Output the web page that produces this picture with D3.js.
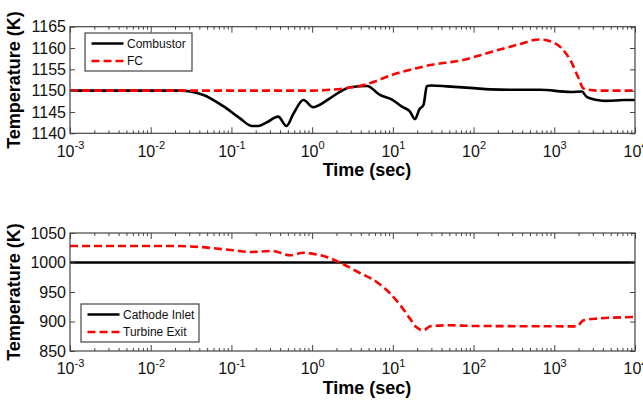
<!DOCTYPE html>
<html>
<head>
<meta charset="utf-8">
<script src="https://cdn.jsdelivr.net/npm/d3@7"></script>
<style>
  body { margin: 0; background: #fff; }
  svg { display: block; font-family: Arial, "Liberation Sans", sans-serif; }
  .tick text { fill: #111; }
</style>
</head>
<body>
<svg id="chart" width="643" height="401"></svg>
<script>
// --- data ---
var decades = [1e-3, 1e-2, 1e-1, 1e0, 1e1, 1e2, 1e3, 1e4];
var decadeExp = ["-3", "-2", "-1", "0", "1", "2", "3", "4"];

var combustorT = [0.001, 0.01, 0.023, 0.031, 0.045, 0.08, 0.128, 0.18, 0.215, 0.27, 0.38, 0.48, 0.59, 0.78, 1.03, 1.25, 1.66, 2.97, 4.8, 6.9, 10, 12.8, 16.3, 18.8, 21.3, 24, 26.4, 30, 47, 100, 160, 340, 660, 1600, 2200, 2500, 3400, 4500, 7300, 10000];
var combustorK = [1150, 1150, 1150, 1149.8, 1149, 1146.3, 1143.5, 1141.7, 1141.7, 1142.5, 1143.9, 1141.7, 1144.7, 1147.8, 1146.1, 1146.7, 1148.2, 1150.8, 1151.1, 1149, 1147.8, 1146.3, 1145.1, 1143.3, 1145.6, 1146.7, 1151.1, 1151.2, 1151, 1150.6, 1150.3, 1150.2, 1150.2, 1149.7, 1149.8, 1148.6, 1147.8, 1147.6, 1147.8, 1147.8];

var fcT = [0.001, 0.01, 0.1, 1, 1.66, 4.3, 11, 29, 74, 160, 340, 660, 890, 1240, 1660, 2000, 2300, 3400, 10000];
var fcK = [1150, 1150, 1150, 1150, 1150.2, 1151.3, 1154, 1156, 1157.2, 1159, 1160.7, 1162, 1161.6, 1159.9, 1156.4, 1152.9, 1150.5, 1150, 1150];

var cathodeT = [0.001, 10000];
var cathodeK = [1000, 1000];

var turbineT = [0.001, 0.019, 0.04, 0.105, 0.17, 0.32, 0.54, 0.78, 1.15, 1.55, 2.2, 3.9, 6.3, 9.3, 12.4, 16.3, 19.8, 24, 29, 51, 100, 1900, 2300, 3400, 10000];
var turbineK = [1028, 1028, 1026.3, 1020.7, 1017.8, 1019.5, 1012.2, 1016.5, 1013.4, 1009, 1000, 982.2, 967, 947.3, 927.5, 904.9, 889.7, 885, 891.9, 893.6, 892.5, 891.8, 902, 905, 907.6];

var topTicks = [1140, 1145, 1150, 1155, 1160, 1165];
var bottomTicks = [850, 900, 950, 1000, 1050];

// --- panels ---
var svg = d3.select("#chart");
var x0 = 70, x1 = 635;

var panels = [
  { top: 26.7, bottom: 133.3, domain: [1140, 1165], ticks: topTicks,
    series: [
      { name: "Combustor", t: combustorT, k: combustorK, color: "#000", dash: null },
      { name: "FC", t: fcT, k: fcK, color: "#f00", dash: "8,4" }
    ],
    legend: { x: 85, y: 33, w: 107, h: 38 } },
  { top: 233, bottom: 351, domain: [850, 1050], ticks: bottomTicks,
    series: [
      { name: "Cathode Inlet", t: cathodeT, k: cathodeK, color: "#000", dash: null },
      { name: "Turbine Exit", t: turbineT, k: turbineK, color: "#f00", dash: "8,4" }
    ],
    legend: { x: 81, y: 304, w: 118, h: 38 } }
];

var x = d3.scaleLog().domain([1e-3, 1e4]).range([x0, x1]);

var minor = [];
decades.slice(0, -1).forEach(function (d) {
  for (var m = 2; m <= 9; m++) minor.push(d * m);
});

panels.forEach(function (p) {
  var y = d3.scaleLinear().domain(p.domain).range([p.bottom, p.top]);
  var h = p.bottom - p.top;
  var g = svg.append("g");

  // curves
  var line = d3.line()
    .x(function (d) { return x(d[0]); })
    .y(function (d) { return y(d[1]); })
    .curve(d3.curveMonotoneX);
  p.series.forEach(function (s) {
    g.append("path")
      .datum(d3.zip(s.t, s.k))
      .attr("fill", "none")
      .attr("stroke", s.color)
      .attr("stroke-width", 2.6)
      .attr("stroke-dasharray", s.dash)
      .attr("d", line);
  });

  // x axes (ticks inside, top and bottom)
  var xb = g.append("g").attr("transform", "translate(0," + p.bottom + ")")
    .call(d3.axisBottom(x).tickValues(decades).tickSizeInner(-6).tickSizeOuter(0).tickPadding(12));
  xb.selectAll(".tick text").text(null).attr("font-size", 16)
    .each(function (d, i) {
      var t = d3.select(this);
      t.append("tspan").text("10");
      t.append("tspan").text(decadeExp[i]).attr("font-size", 11).attr("dy", "-0.7em");
    });
  g.append("g").attr("transform", "translate(0," + p.bottom + ")")
    .call(d3.axisBottom(x).tickValues(minor).tickSizeInner(-3).tickSizeOuter(0).tickFormat(""));
  g.append("g").attr("transform", "translate(0," + p.top + ")")
    .call(d3.axisTop(x).tickValues(decades).tickSizeInner(-6).tickSizeOuter(0).tickFormat(""));
  g.append("g").attr("transform", "translate(0," + p.top + ")")
    .call(d3.axisTop(x).tickValues(minor).tickSizeInner(-3).tickSizeOuter(0).tickFormat(""));

  // y axes
  var yl = g.append("g").attr("transform", "translate(" + x0 + ",0)")
    .call(d3.axisLeft(y).tickValues(p.ticks).tickFormat(d3.format("d"))
      .tickSizeInner(-5).tickSizeOuter(0).tickPadding(4));
  yl.selectAll(".tick text").attr("font-size", 16);
  g.append("g").attr("transform", "translate(" + x1 + ",0)")
    .call(d3.axisRight(y).tickValues(p.ticks).tickSizeInner(-5).tickSizeOuter(0).tickFormat(""));

  g.selectAll(".domain").remove();
  g.selectAll(".tick line").attr("stroke", "#444");

  // frame
  g.append("rect")
    .attr("x", x0).attr("y", p.top)
    .attr("width", x1 - x0).attr("height", h)
    .attr("fill", "none").attr("stroke", "#444").attr("stroke-width", 1.2);

  // axis titles
  g.append("text")
    .attr("x", 367).attr("y", p.bottom + 43)
    .attr("text-anchor", "middle")
    .attr("font-size", 18).attr("font-weight", "bold")
    .text("Time (sec)");
  g.append("text")
    .attr("transform", "translate(20," + (p.top + h / 2) + ") rotate(-90)")
    .attr("text-anchor", "middle")
    .attr("font-size", 18).attr("font-weight", "bold")
    .text("Temperature (K)");

  // legend
  var L = p.legend;
  var lg = g.append("g").attr("transform", "translate(" + L.x + "," + L.y + ")");
  lg.append("rect").attr("width", L.w).attr("height", L.h)
    .attr("fill", "#fff").attr("stroke", "#444").attr("stroke-width", 1.2);
  p.series.forEach(function (s, i) {
    var ly = 10.5 + i * 17.5;
    lg.append("line")
      .attr("x1", 6.5).attr("x2", 38.5).attr("y1", ly).attr("y2", ly)
      .attr("stroke", s.color).attr("stroke-width", 2.6)
      .attr("stroke-dasharray", s.dash);
    lg.append("text")
      .attr("x", 42).attr("y", ly + 4.3)
      .attr("font-size", 12).attr("fill", "#111")
      .text(s.name);
  });
});
</script>
</body>
</html>
